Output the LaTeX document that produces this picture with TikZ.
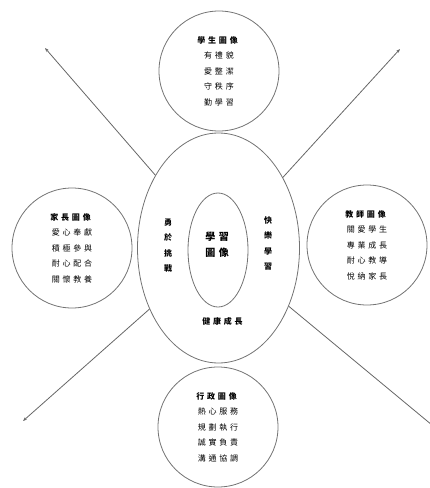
\documentclass[tikz,border=0pt]{standalone}
\usepackage{fontspec}
\setmainfont{Noto Sans CJK TC}[LetterSpace=35]
\usetikzlibrary{shapes.geometric,arrows.meta}
\tikzset{
  ring/.style={draw=black!55, line width=0.8pt},
  bubble/.style={ring, circle, minimum size=120pt, inner sep=0pt, align=center,
     font=\fontsize{8pt}{15.5pt}\selectfont},
  vtext/.style={align=center, font=\fontsize{8pt}{15.5pt}\selectfont\bfseries},
  ray/.style={draw=black!60, line width=0.8pt, -{Stealth[length=4pt,width=3pt]}}
}
\begin{document}
\begin{tikzpicture}[x=1pt,y=-1pt]
\useasboundingbox (0,0) rectangle (430,488);
% central ellipses
\node[ring, ellipse, minimum width=162pt, minimum height=230pt, inner sep=0pt] (big) at (218.5,248) {};
\node[ring, ellipse, minimum width=60pt, minimum height=114pt, inner sep=0pt] (inner) at (218,250) {};
\node[align=center, font=\fontsize{10pt}{16pt}\selectfont\bfseries] (core) at (217,245) {學習\\圖像};
\node[vtext] (left) at (168,245.5) {勇\\於\\挑\\戰};
\node[vtext] (right) at (268,243.5) {快\\樂\\學\\習};
\node[vtext] (bottom) at (222.5,321) {健康成長};
% surrounding circles
\node[bubble] (student) at (219,71) {\textbf{學生圖像}\\有禮貌\\愛整潔\\守秩序\\勤學習};
\node[bubble] (parent) at (72,248) {\textbf{家長圖像}\\愛心奉獻\\積極參與\\耐心配合\\關懷教養};
\node[bubble] (teacher) at (367,245) {\textbf{教師圖像}\\關愛學生\\專業成長\\耐心教導\\悅納家長};
\node[bubble] (admin) at (218,427) {\textbf{行政圖像}\\熱心服務\\規劃執行\\誠實負責\\溝通協調};
% rays
\coordinate (tUL) at (45,48);
\coordinate (tUR) at (400,49);
\coordinate (tLL) at (23,421);
\coordinate (tLR) at (438,430);
\draw[ray] (big) -- (tUL);
\draw[ray] (big) -- (tUR);
\draw[ray] (big) -- (tLL);
\draw[ray] (big) -- (tLR);
\end{tikzpicture}
\end{document}
